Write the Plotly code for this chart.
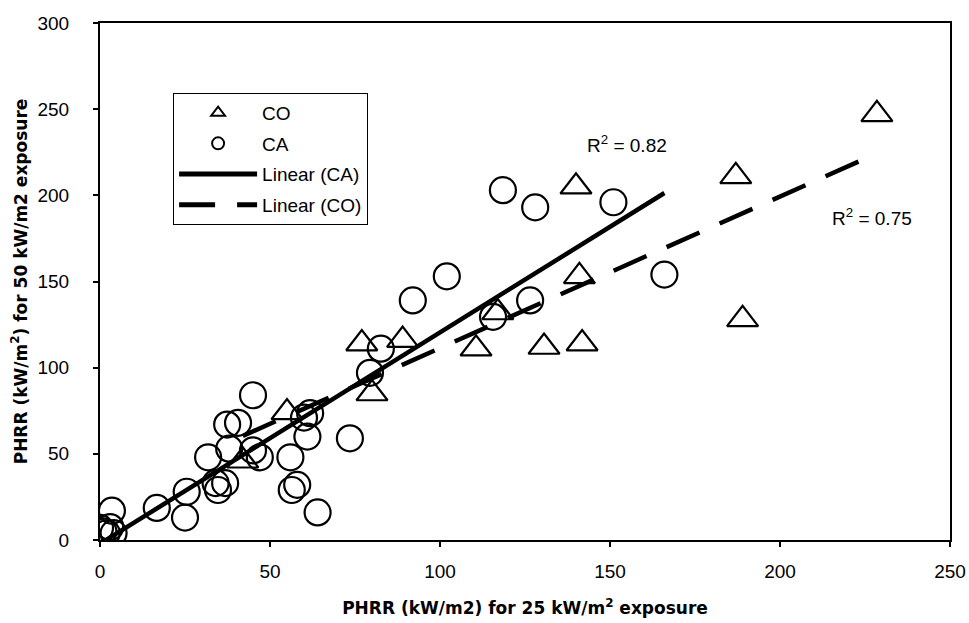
import numpy as np
import plotly.graph_objects as go

# ---- data ----
co_x = [42, 55, 77, 80, 89, 110.6, 117, 130.6, 141.8, 141, 140, 187, 189, 228.5]
co_y = [46, 74, 114, 85, 116, 111, 132, 112, 114, 153, 205, 211, 128, 247]

ca_x = [118.5, 128, 151, 102, 92, 166, 126.5, 115.6, 82.6, 79.4, 45, 61.8, 60, 73.5,
        37.4, 40.6, 61, 56, 31.8, 38, 45, 47, 34, 36.8, 34.7, 58, 56.4, 64, 25.5, 25,
        16.7, 3.5, 0, 3, 1, 2, 4]
ca_y = [203, 193, 196, 153, 139, 154, 139, 129.5, 111, 97, 84, 73.6, 71, 59,
        67, 68, 60, 48, 48, 53, 52, 48, 33, 33, 29, 32, 29, 16, 28, 13,
        18.6, 17, 7, 7.5, 5, 4, 4]

r2_labels = ["R<sup>2</sup> = 0.82", "R<sup>2</sup> = 0.75"]
r2_pos_x = [155, 227]
r2_pos_y = [230, 187.5]

x_ticks = [0, 50, 100, 150, 200, 250]
y_ticks = [0, 50, 100, 150, 200, 250, 300]


def trend(xs, ys):
    xs = np.asarray(xs, float)
    ys = np.asarray(ys, float)
    m, b = np.polyfit(xs, ys, 1)
    xl = np.array([xs.min(), xs.max()])
    return xl, m * xl + b


ca_lx, ca_ly = trend(ca_x, ca_y)
co_lx, co_ly = trend(co_x, co_y)

TICKFONT = dict(family="Liberation Sans, Arial, sans-serif", size=19, color="black")
TITLEFONT = dict(family="DejaVu Sans, sans-serif", size=17, color="black", weight="bold")

fig = go.Figure()
fig.add_trace(go.Scatter(
    x=co_x, y=co_y, mode="markers", name="CO", legendgroup="a",
    marker=dict(symbol="triangle-up-open", size=27, color="black",
                line=dict(width=2.2, color="black"))))
fig.add_trace(go.Scatter(
    x=ca_x, y=ca_y, mode="markers", name="CA", legendgroup="b",
    marker=dict(symbol="circle-open", size=26, color="black",
                line=dict(width=2.2, color="black"))))
fig.add_trace(go.Scatter(
    x=ca_lx, y=ca_ly, mode="lines", name="Linear (CA)", legendgroup="c",
    line=dict(color="black", width=4.5)))
fig.add_trace(go.Scatter(
    x=co_lx, y=co_ly, mode="lines", name="Linear (CO)", legendgroup="d",
    line=dict(color="black", width=4.5, dash="36px,22px")))

for t, ax, ay in zip(r2_labels, r2_pos_x, r2_pos_y):
    fig.add_annotation(x=ax, y=ay, text=t, showarrow=False,
                       font=dict(family="Liberation Sans, Arial, sans-serif", size=19, color="black"))

fig.update_layout(
    width=969, height=623,
    margin=dict(l=100, r=19, t=23, b=83),
    paper_bgcolor="white", plot_bgcolor="white",
    showlegend=True,
    legend=dict(x=0.086, y=0.865, xanchor="left", yanchor="top",
                bgcolor="white", bordercolor="black", borderwidth=1,
                font=dict(family="Liberation Sans, Arial, sans-serif", size=19, color="black"),
                itemsizing="constant", itemwidth=78, tracegroupgap=3),
)
fig.update_xaxes(
    range=[0, 250], tickvals=x_ticks, showgrid=False, zeroline=False, automargin=False,
    showline=True, linewidth=2, linecolor="black", mirror=True,
    ticks="outside", ticklen=5, tickwidth=1.5, tickcolor="black",
    tickfont=TICKFONT, ticklabelstandoff=8,
    title=dict(text="PHRR (kW/m2) for 25 kW/m<sup>2</sup> exposure", font=TITLEFONT, standoff=21),
)
fig.update_yaxes(
    range=[0, 300], tickvals=y_ticks, showgrid=False, zeroline=False, automargin=False,
    showline=True, linewidth=2, linecolor="black", mirror=True,
    ticks="outside", ticklen=5, tickwidth=1.5, tickcolor="black",
    tickfont=TICKFONT, ticklabelstandoff=20,
    title=dict(text="PHRR (kW/m<sup>2</sup>) for 50 kW/m2 exposure", font=TITLEFONT, standoff=6),
)

fig.write_html("out.html",
               config={"displayModeBar": False},
               post_script="document.body.style.margin='0';document.body.style.overflow='hidden';")
